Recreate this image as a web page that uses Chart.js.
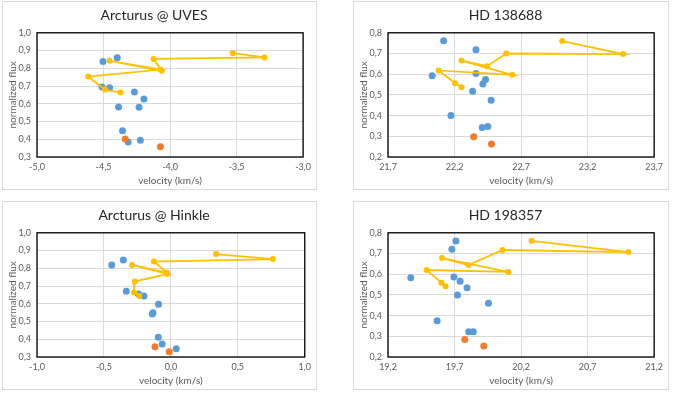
<!DOCTYPE html>
<html>
<head>
<meta charset="utf-8">
<title>Line flux vs velocity</title>
<script src="https://cdn.jsdelivr.net/npm/chart.js@4.4.1/dist/chart.umd.min.js"></script>
<style>
  body { margin: 0; background: #fff; width: 673px; height: 393px; position: relative; overflow: hidden; }
  .panel { position: absolute; border: 1px solid #d9d9d9; box-sizing: border-box; }
  .panel canvas { display: block; }
</style>
</head>
<body>
<div class="panel" style="left:2px;top:1px;width:315px;height:189px"><canvas id="uves" width="313" height="187"></canvas></div>
<div class="panel" style="left:353px;top:1px;width:316px;height:189px"><canvas id="hd138688" width="314" height="187"></canvas></div>
<div class="panel" style="left:2px;top:201px;width:315px;height:189px"><canvas id="hinkle" width="313" height="187"></canvas></div>
<div class="panel" style="left:353px;top:201px;width:316px;height:189px"><canvas id="hd198357" width="314" height="187"></canvas></div>

<script>
// Tick labels
const arcturusYTicks = [0.3, 0.4, 0.5, 0.6, 0.7, 0.8, 0.9, 1.0];
const hdYTicks = [0.2, 0.3, 0.4, 0.5, 0.6, 0.7, 0.8];
const uvesXTicks = [-5.0, -4.5, -4.0, -3.5, -3.0];
const hinkleXTicks = [-1.0, -0.5, 0.0, 0.5, 1.0];
const hd138688XTicks = [21.7, 22.2, 22.7, 23.2, 23.7];
const hd198357XTicks = [19.2, 19.7, 20.2, 20.7, 21.2];

// Arcturus @ UVES
const uvesBlueX = [-4.504, -4.397, -4.511, -4.454, -4.268, -4.196, -4.387, -4.233, -4.357, -4.315, -4.223];
const uvesBlueY = [0.838, 0.859, 0.695, 0.691, 0.667, 0.627, 0.582, 0.580, 0.448, 0.384, 0.395];
const uvesOrangeX = [-4.337, -4.072];
const uvesOrangeY = [0.401, 0.358];
const uvesGoldX = [-3.529, -3.290, -4.124, -4.062, -4.454, -4.072, -4.615, -4.489, -4.372];
const uvesGoldY = [0.885, 0.861, 0.853, 0.786, 0.842, 0.793, 0.753, 0.680, 0.663];

// HD 138688
const hd138688BlueX = [22.118, 22.361, 22.361, 22.032, 22.433, 22.413, 22.336, 22.475, 22.173, 22.408, 22.450];
const hd138688BlueY = [0.761, 0.718, 0.603, 0.592, 0.574, 0.553, 0.518, 0.474, 0.400, 0.342, 0.347];
const hd138688OrangeX = [22.344, 22.478];
const hd138688OrangeY = [0.298, 0.263];
const hd138688GoldX = [23.009, 23.467, 22.589, 22.445, 22.252, 22.633, 22.081, 22.205, 22.253];
const hd138688GoldY = [0.760, 0.697, 0.700, 0.639, 0.666, 0.597, 0.618, 0.556, 0.537];

// Arcturus @ Hinkle
const hinkleBlueX = [-0.442, -0.355, -0.333, -0.243, -0.201, -0.092, -0.134, -0.139, -0.094, -0.065, 0.040];
const hinkleBlueY = [0.818, 0.846, 0.670, 0.655, 0.644, 0.597, 0.549, 0.543, 0.412, 0.373, 0.346];
const hinkleOrangeX = [-0.119, -0.012];
const hinkleOrangeY = [0.358, 0.330];
const hinkleGoldX = [0.337, 0.762, -0.127, -0.030, -0.290, -0.027, -0.269, -0.275, -0.236];
const hinkleGoldY = [0.880, 0.852, 0.838, 0.776, 0.819, 0.768, 0.725, 0.664, 0.644];

// HD 198357
const hd198357BlueX = [19.710, 19.680, 19.695, 19.371, 19.742, 19.794, 19.722, 19.955, 19.569, 19.806, 19.841];
const hd198357BlueY = [0.760, 0.721, 0.587, 0.583, 0.566, 0.534, 0.500, 0.460, 0.375, 0.322, 0.322];
const hd198357OrangeX = [19.777, 19.920];
const hd198357OrangeY = [0.285, 0.253];
const hd198357GoldX = [20.279, 21.007, 20.061, 19.804, 19.606, 20.103, 19.490, 19.601, 19.633];
const hd198357GoldY = [0.761, 0.707, 0.717, 0.644, 0.678, 0.611, 0.620, 0.559, 0.542];

const FONT = "Lato, 'Open Sans', sans-serif";

// junta x e y em pontos
function toPoints(xs, ys) {
  return xs.map((x, i) => ({ x: x, y: ys[i] }));
}

// formato com vírgula decimal
function fmt(v) {
  return Number(v).toFixed(1).replace(".", ",");
}

// moldura preta da área do gráfico
const plotBorder = {
  id: "plotBorder",
  beforeDatasetsDraw(chart) {
    const a = chart.chartArea;
    const ctx = chart.ctx;
    ctx.save();
    ctx.strokeStyle = "#000";
    ctx.lineWidth = 1.3;
    ctx.strokeRect(a.left, a.top, a.right - a.left, a.bottom - a.top);
    ctx.restore();
  },
};

function makeChart(id, title, xTicks, yTicks, blueX, blueY, orangeX, orangeY, goldX, goldY) {
  const ctx = document.getElementById(id).getContext("2d");
  return new Chart(ctx, {
    type: "scatter",
    data: {
      datasets: [
        {
          label: "Series1",
          data: toPoints(blueX, blueY),
          backgroundColor: "#5B9BD5",
          borderColor: "#5B9BD5",
          pointRadius: 3.5,
          borderWidth: 0,
          order: 3,
        },
        {
          label: "Series2",
          data: toPoints(orangeX, orangeY),
          backgroundColor: "#ED7D31",
          borderColor: "#ED7D31",
          pointRadius: 3.5,
          borderWidth: 0,
          order: 2,
        },
        {
          label: "Series3",
          data: toPoints(goldX, goldY),
          showLine: true,
          backgroundColor: "#FFC000",
          borderColor: "#FFC000",
          borderWidth: 1.8,
          pointRadius: 3,
          pointBorderWidth: 0,
          order: 1,
        },
      ],
    },
    options: {
      responsive: false,
      animation: false,
      layout: { padding: { left: 0, right: 11, top: 0, bottom: 0 } },
      plugins: {
        legend: { display: false },
        tooltip: { enabled: false },
        title: {
          display: true,
          text: title,
          color: "#262626",
          font: { family: FONT, size: 14, weight: "normal" },
          padding: { top: 5, bottom: 9 },
        },
      },
      scales: {
        x: {
          type: "linear",
          min: xTicks[0],
          max: xTicks[xTicks.length - 1],
          afterBuildTicks: (s) => { s.ticks = xTicks.map((v) => ({ value: v })); },
          afterFit: (s) => { s.height = 32; },
          grid: { color: "#d9d9d9", drawTicks: false },
          border: { display: false },
          ticks: {
            padding: 5,
            color: "#595959",
            font: { family: FONT, size: 9 },
            maxRotation: 0,
            callback: (v) => fmt(v),
          },
          title: {
            display: true,
            text: "velocity (km/s)",
            color: "#595959",
            font: { family: FONT, size: 10 },
            padding: { top: 0, bottom: 2 },
          },
        },
        y: {
          type: "linear",
          min: yTicks[0],
          max: yTicks[yTicks.length - 1],
          afterBuildTicks: (s) => { s.ticks = yTicks.map((v) => ({ value: v })); },
          afterFit: (s) => { s.width = 34; },
          grid: { color: "#d9d9d9", drawTicks: false },
          border: { display: false },
          ticks: {
            padding: 6,
            color: "#595959",
            font: { family: FONT, size: 9 },
            callback: (v) => fmt(v),
          },
          title: {
            display: true,
            text: "normalized flux",
            color: "#595959",
            font: { family: FONT, size: 10 },
            padding: { top: 4, bottom: 0 },
          },
        },
      },
    },
    plugins: [plotBorder],
  });
}

makeChart("uves", "Arcturus @ UVES", uvesXTicks, arcturusYTicks,
  uvesBlueX, uvesBlueY, uvesOrangeX, uvesOrangeY, uvesGoldX, uvesGoldY);
makeChart("hd138688", "HD 138688", hd138688XTicks, hdYTicks,
  hd138688BlueX, hd138688BlueY, hd138688OrangeX, hd138688OrangeY, hd138688GoldX, hd138688GoldY);
makeChart("hinkle", "Arcturus @ Hinkle", hinkleXTicks, arcturusYTicks,
  hinkleBlueX, hinkleBlueY, hinkleOrangeX, hinkleOrangeY, hinkleGoldX, hinkleGoldY);
makeChart("hd198357", "HD 198357", hd198357XTicks, hdYTicks,
  hd198357BlueX, hd198357BlueY, hd198357OrangeX, hd198357OrangeY, hd198357GoldX, hd198357GoldY);
</script>
</body>
</html>
